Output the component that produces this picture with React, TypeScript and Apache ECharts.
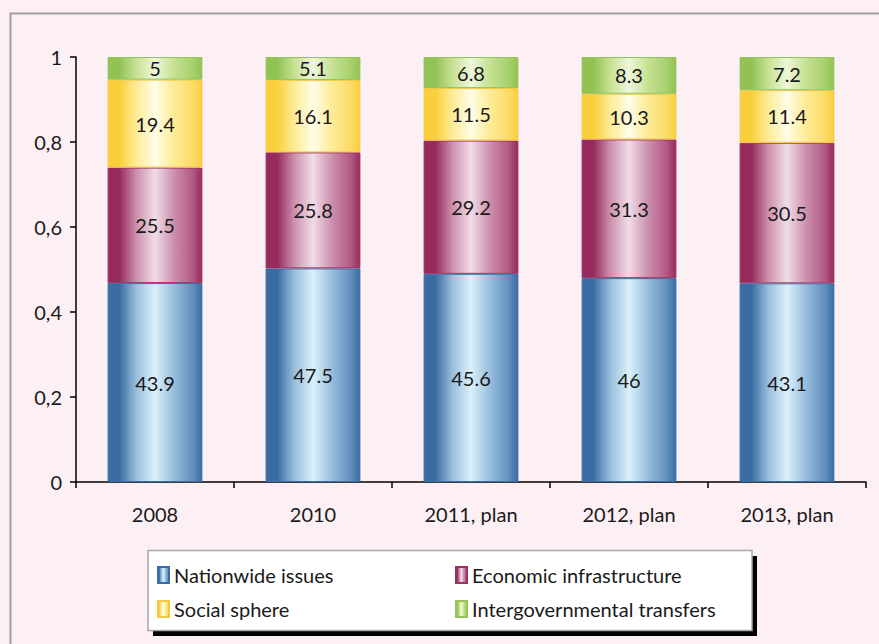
import React, { useEffect, useRef } from "react";
import * as echarts from "echarts";

const categories = ["2008", "2010", "2011, plan", "2012, plan", "2013, plan"];
const nationwide = [43.9, 47.5, 45.6, 46, 43.1];
const economic = [25.5, 25.8, 29.2, 31.3, 30.5];
const social = [19.4, 16.1, 11.5, 10.3, 11.4];
const transfers = [5, 5.1, 6.8, 8.3, 7.2];
const yTicks = [0, 0.2, 0.4, 0.6, 0.8, 1];

const seriesNames = [
  "Nationwide issues",
  "Economic infrastructure",
  "Social sphere",
  "Intergovernmental transfers",
];

const FONT = "Lato, 'Open Sans', sans-serif";

function grad(edge: string, mid: string, light: string, border: string) {
  return new echarts.graphic.LinearGradient(0, 0, 1, 0, [
    { offset: 0, color: edge },
    { offset: 0.12, color: edge },
    { offset: 0.3, color: mid },
    { offset: 0.5, color: light },
    { offset: 0.7, color: mid },
    { offset: 0.9, color: border },
    { offset: 1, color: edge },
  ]);
}

export default function App() {
  const ref = useRef<HTMLDivElement>(null);
  useEffect(() => {
    if (!ref.current) return;
    const chart = echarts.init(ref.current, undefined, { renderer: "svg" });
    const raw = [nationwide, economic, social, transfers];
    const totals = categories.map((_, i) => raw.reduce((s, arr) => s + arr[i], 0));
    const styles = [
      { color: grad("#3a6ca3", "#98bedd", "#dbf0fa", "#6390be"), border: "#3a6ea6" },
      { color: grad("#962a5c", "#cc90ad", "#f1dce7", "#b35a85"), border: "#9a3162" },
      { color: grad("#f9cf3c", "#fdeb96", "#fffde8", "#fbdc68"), border: "#f5c842" },
      { color: grad("#92c254", "#c6e192", "#eef7da", "#a8d06e"), border: "#94c45a" },
    ];
    const series = raw.map((arr, si) => ({
      name: seriesNames[si],
      type: "bar",
      stack: "total",
      barWidth: "60%",
      data: arr.map((v, i) => v / totals[i]),
      itemStyle: {
        color: styles[si].color,
        borderColor: styles[si].border,
        borderWidth: 1,
      },
      label: {
        show: true,
        position: "inside",
        formatter: (p: any) => String(arr[p.dataIndex]),
        color: "#1a1a1a",
        fontSize: 20,
        fontFamily: FONT,
      },
    }));
    const legendText = { fontSize: 20, fontFamily: FONT, color: "#1a1a1a", padding: [0, 0, 0, 0] };
    chart.setOption({
      animation: false,
      backgroundColor: "#fdeff3",
      grid: { left: 76, right: 13, top: 57, bottom: 162, containLabel: false },
      xAxis: {
        type: "category",
        data: categories,
        axisLine: { show: true, lineStyle: { color: "#000", width: 1.5 } },
        axisTick: { show: true, length: 6, lineStyle: { color: "#000", width: 1.5 } },
        axisLabel: { color: "#1a1a1a", fontSize: 20, fontFamily: FONT, margin: 22 },
      },
      yAxis: {
        type: "value",
        min: 0,
        max: 1,
        interval: 0.2,
        splitLine: { show: false },
        axisLine: { show: true, lineStyle: { color: "#000", width: 1.5 } },
        axisTick: { show: true, length: 6, lineStyle: { color: "#000", width: 1.5 } },
        axisLabel: {
          color: "#1a1a1a",
          fontSize: 20,
          fontFamily: FONT,
          margin: 14,
          formatter: (v: number) => {
            const t = yTicks.find((x) => Math.abs(x - v) < 1e-9);
            return String(t !== undefined ? t : v).replace(".", ",");
          },
        },
      },
      legend: [
        {
          orient: "vertical",
          left: 152,
          top: 560,
          itemWidth: 11,
          itemHeight: 16,
          itemGap: 14,
          icon: "rect",
          data: [seriesNames[0], seriesNames[2]],
          textStyle: legendText,
        },
        {
          orient: "vertical",
          left: 450,
          top: 560,
          itemWidth: 11,
          itemHeight: 16,
          itemGap: 14,
          icon: "rect",
          data: [seriesNames[1], seriesNames[3]],
          textStyle: legendText,
        },
      ],
      graphic: [
        {
          type: "rect",
          z: -10,
          shape: { x: 10.5, y: 13.5, width: 1000, height: 1000 },
          style: { fill: "#fdf0f4", stroke: "#a0a0a0", lineWidth: 2 },
          silent: true,
        },
        {
          type: "rect",
          z: 1,
          shape: { x: 153, y: 556, width: 604, height: 80 },
          style: { fill: "#000" },
          silent: true,
        },
        {
          type: "rect",
          z: 2,
          shape: { x: 148, y: 550.5, width: 604, height: 80 },
          style: { fill: "#ffffff", stroke: "#a8a8a8", lineWidth: 1.5 },
          silent: true,
        },
      ],
      series,
    });
    return () => chart.dispose();
  }, []);
  return (
    <div
      ref={ref}
      style={{ position: "absolute", left: 0, top: 0, width: 879, height: 644 }}
    />
  );
}
